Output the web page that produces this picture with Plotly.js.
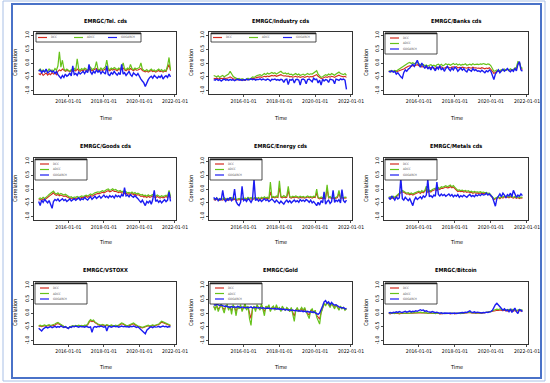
<!DOCTYPE html>
<html><head><meta charset="utf-8">
<script src="https://cdn.plot.ly/plotly-3.0.1.min.js"></script>
<style>html,body{margin:0;padding:0;background:#fff}#chart{width:550px;height:383px}</style>
</head><body><div id="chart"></div>
<script>
const dates = [
"2014-05","2014-06","2014-07","2014-08","2014-09","2014-10","2014-11","2014-12",
"2015-01","2015-02","2015-03","2015-04","2015-05","2015-06","2015-07","2015-08","2015-09","2015-10","2015-11","2015-12",
"2016-01","2016-02","2016-03","2016-04","2016-05","2016-06","2016-07","2016-08","2016-09","2016-10","2016-11","2016-12",
"2017-01","2017-02","2017-03","2017-04","2017-05","2017-06","2017-07","2017-08","2017-09","2017-10","2017-11","2017-12",
"2018-01","2018-02","2018-03","2018-04","2018-05","2018-06","2018-07","2018-08","2018-09","2018-10","2018-11","2018-12",
"2019-01","2019-02","2019-03","2019-04","2019-05","2019-06","2019-07","2019-08","2019-09","2019-10","2019-11","2019-12",
"2020-01","2020-02","2020-03","2020-04","2020-05","2020-06","2020-07","2020-08","2020-09","2020-10","2020-11","2020-12",
"2021-01","2021-02","2021-03","2021-04","2021-05","2021-06","2021-07","2021-08","2021-09","2021-10"];

const panelTitles = ["EMRGC/Tel. cds","EMRGC/Industry cds","EMRGC/Banks cds",
  "EMRGC/Goods cds","EMRGC/Energy cds","EMRGC/Metals cds",
  "EMRGC/VSTOXX","EMRGC/Gold","EMRGC/Bitcoin"];
const seriesNames = ["DCC","ADCC","GOGARCH"];
const xTickVals = ["2016-01-01","2018-01-01","2020-01-01","2022-01-01"];
const xTickText = ["2016-01-01","2018-01-01","2020-01-01","2022-01-01"];
const yTickVals = [-1,-0.5,0,0.5,1];
const yTickText = ["-1.0","-0.5","0.0","0.5","1.0"];

// ---- Tel. cds
const tel_red = [-0.38,-0.42,-0.35,-0.45,-0.40,-0.36,-0.44,-0.38,-0.42,-0.35,
-0.40,-0.36,-0.42,-0.30,-0.25,-0.28,-0.22,-0.26,-0.30,-0.27,
-0.28,-0.32,-0.27,-0.30,-0.25,-0.29,-0.22,-0.27,-0.30,-0.25,
-0.28,-0.24,-0.27,-0.30,-0.25,-0.22,-0.28,-0.25,-0.23,-0.20,
-0.26,-0.29,-0.24,-0.27,-0.25,-0.22,-0.18,-0.25,-0.28,-0.23,
-0.26,-0.22,-0.25,-0.28,-0.23,-0.26,-0.22,-0.18,-0.25,-0.28,
-0.23,-0.26,-0.20,-0.25,-0.28,-0.23,-0.26,-0.25,-0.22,-0.20,
-0.27,-0.30,-0.32,-0.29,-0.33,-0.30,-0.27,-0.31,-0.29,-0.33,
-0.30,-0.27,-0.31,-0.29,-0.33,-0.29,-0.31,-0.20,-0.05,-0.28];
const tel_green = [-0.28,-0.22,-0.30,-0.25,-0.32,-0.26,-0.30,-0.22,-0.28,-0.25,
-0.30,-0.20,-0.26,-0.10,0.40,-0.15,0.10,-0.20,-0.28,-0.22,
-0.26,-0.30,-0.24,-0.28,-0.20,-0.25,0.15,-0.22,-0.26,-0.20,
-0.24,-0.18,-0.22,-0.26,-0.20,-0.15,-0.24,-0.20,-0.18,0.05,
-0.22,-0.26,-0.18,-0.24,-0.20,-0.14,0.10,-0.20,-0.24,-0.18,
-0.22,-0.16,-0.20,-0.24,-0.18,-0.22,-0.15,0.00,-0.20,-0.24,
-0.18,-0.22,-0.05,-0.20,-0.24,-0.18,-0.22,-0.20,-0.16,0.00,
-0.22,-0.26,-0.28,-0.24,-0.30,-0.26,-0.22,-0.28,-0.25,-0.30,
-0.26,-0.22,-0.28,-0.24,-0.30,-0.25,-0.28,-0.10,0.20,-0.25];
const tel_blue = [-0.30,-0.25,-0.35,-0.28,-0.32,-0.22,-0.36,-0.30,-0.27,-0.33,
-0.29,-0.38,-0.31,-0.42,-0.50,-0.55,-0.45,-0.52,-0.40,-0.48,
-0.44,-0.36,-0.47,-0.10,-0.42,-0.38,-0.45,-0.33,-0.40,-0.35,
-0.30,-0.38,-0.28,-0.35,-0.05,-0.32,-0.40,-0.30,-0.36,-0.25,
-0.33,-0.28,-0.38,-0.30,-0.34,-0.40,-0.10,-0.42,-0.45,-0.35,
-0.40,-0.30,-0.38,-0.44,-0.36,-0.42,-0.05,-0.40,-0.35,-0.45,
-0.38,-0.30,-0.42,-0.48,-0.36,-0.40,-0.45,-0.38,-0.50,-0.58,
-0.65,-0.72,-0.85,-0.70,-0.60,-0.52,-0.48,-0.55,-0.45,-0.50,
-0.55,-0.48,-0.52,-0.45,-0.58,-0.50,-0.46,-0.52,-0.40,-0.50];

// ---- Industry cds
const ind_red = [-0.55,-0.57,-0.54,-0.58,-0.56,-0.55,-0.57,-0.54,-0.56,-0.55,
-0.53,-0.50,-0.55,-0.57,-0.58,-0.60,-0.61,-0.59,-0.62,-0.60,
-0.61,-0.63,-0.60,-0.58,-0.60,-0.57,-0.55,-0.56,-0.53,-0.52,
-0.51,-0.50,-0.52,-0.49,-0.48,-0.50,-0.47,-0.49,-0.47,-0.45,
-0.47,-0.45,-0.48,-0.46,-0.44,-0.42,-0.45,-0.47,-0.46,-0.48,
-0.47,-0.50,-0.49,-0.51,-0.50,-0.48,-0.51,-0.49,-0.52,-0.50,
-0.49,-0.52,-0.50,-0.48,-0.51,-0.49,-0.50,-0.47,-0.44,-0.42,
-0.48,-0.53,-0.56,-0.55,-0.52,-0.50,-0.52,-0.49,-0.51,-0.48,
-0.50,-0.52,-0.49,-0.46,-0.44,-0.47,-0.49,-0.50,-0.48,-0.52];
const ind_green = [-0.45,-0.48,-0.50,-0.46,-0.52,-0.48,-0.45,-0.50,-0.47,-0.44,
-0.40,-0.30,-0.42,-0.48,-0.52,-0.55,-0.58,-0.56,-0.60,-0.57,
-0.60,-0.62,-0.58,-0.55,-0.60,-0.56,-0.50,-0.52,-0.48,-0.45,
-0.44,-0.42,-0.46,-0.40,-0.38,-0.42,-0.36,-0.40,-0.37,-0.34,
-0.38,-0.35,-0.40,-0.37,-0.33,-0.30,-0.35,-0.38,-0.36,-0.40,
-0.37,-0.42,-0.40,-0.44,-0.41,-0.38,-0.43,-0.40,-0.45,-0.42,
-0.40,-0.44,-0.41,-0.38,-0.42,-0.39,-0.40,-0.36,-0.32,-0.28,
-0.40,-0.48,-0.52,-0.50,-0.46,-0.42,-0.45,-0.40,-0.43,-0.38,
-0.41,-0.44,-0.40,-0.36,-0.33,-0.38,-0.40,-0.42,-0.38,-0.45];
const ind_blue = [-0.60,-0.62,-0.58,-0.63,-0.60,-0.65,-0.61,-0.58,-0.62,-0.60,
-0.63,-0.59,-0.62,-0.60,-0.64,-0.61,-0.58,-0.62,-0.60,-0.63,
-0.60,-0.62,-0.58,-0.61,-0.60,-0.57,-0.60,-0.58,-0.62,-0.59,
-0.60,-0.57,-0.61,-0.58,-0.60,-0.62,-0.58,-0.60,-0.65,-0.59,
-0.60,-0.58,-0.62,-0.60,-0.63,-0.59,-0.61,-0.70,-0.60,-0.58,
-0.78,-0.60,-0.62,-0.58,-0.72,-0.60,-0.59,-0.62,-0.80,-0.60,
-0.58,-0.61,-0.75,-0.60,-0.58,-0.62,-0.68,-0.55,-0.60,-0.58,
-0.72,-0.62,-0.80,-0.58,-0.65,-0.60,-0.62,-0.70,-0.58,-0.60,
-0.62,-0.75,-0.58,-0.60,-0.63,-0.57,-0.60,-0.58,-0.62,-0.95];

// ---- Banks cds
const bank_red = [-0.30,-0.31,-0.29,-0.31,-0.29,-0.32,-0.30,-0.28,-0.27,-0.24,
-0.22,-0.18,-0.14,-0.12,-0.10,-0.12,-0.09,-0.11,-0.08,-0.06,
-0.10,-0.12,-0.14,-0.13,-0.16,-0.14,-0.18,-0.15,-0.17,-0.16,
-0.18,-0.20,-0.16,-0.15,-0.17,-0.14,-0.18,-0.19,-0.15,-0.14,
-0.16,-0.18,-0.15,-0.14,-0.16,-0.13,-0.18,-0.16,-0.17,-0.15,
-0.16,-0.18,-0.19,-0.16,-0.17,-0.19,-0.15,-0.18,-0.17,-0.19,
-0.18,-0.20,-0.17,-0.19,-0.21,-0.18,-0.20,-0.17,-0.22,-0.30,
-0.38,-0.34,-0.30,-0.30,-0.31,-0.27,-0.27,-0.26,-0.27,-0.22,
-0.26,-0.25,-0.26,-0.25,-0.21,-0.20,-0.05,0.02,-0.20,-0.24];
const bank_green = [-0.30,-0.28,-0.32,-0.30,-0.27,-0.29,-0.25,-0.22,-0.20,-0.15,
-0.12,-0.08,-0.02,0.00,0.02,-0.02,0.01,-0.03,0.00,0.02,
-0.03,-0.06,-0.08,-0.05,-0.10,-0.07,-0.12,-0.08,-0.06,-0.10,
-0.08,-0.12,-0.06,-0.04,-0.09,-0.05,-0.10,-0.07,-0.03,-0.06,
-0.04,-0.08,-0.05,-0.02,-0.06,-0.03,-0.07,-0.04,-0.08,-0.05,
-0.06,-0.03,-0.08,-0.05,-0.04,-0.07,-0.03,-0.06,-0.05,-0.04,
-0.06,-0.03,-0.05,-0.02,-0.04,-0.06,-0.03,-0.05,-0.10,-0.20,
-0.30,-0.28,-0.25,-0.30,-0.27,-0.24,-0.28,-0.22,-0.26,-0.23,
-0.25,-0.21,-0.26,-0.22,-0.20,-0.15,0.05,0.02,-0.15,-0.20];
const bank_blue = [-0.30,-0.32,-0.28,-0.33,-0.30,-0.40,-0.35,-0.45,-0.50,-0.55,
-0.35,-0.25,-0.30,-0.22,-0.18,-0.10,-0.05,-0.12,0.02,0.10,
-0.05,-0.15,0.00,-0.10,-0.20,-0.08,-0.22,-0.15,-0.25,-0.12,
-0.20,-0.28,-0.15,-0.22,-0.10,-0.25,-0.18,-0.30,-0.20,-0.12,
-0.22,-0.28,-0.18,-0.25,-0.15,-0.20,-0.30,-0.22,-0.18,-0.26,
-0.20,-0.28,-0.32,-0.22,-0.25,-0.30,-0.20,-0.27,-0.24,-0.30,
-0.28,-0.32,-0.26,-0.30,-0.35,-0.28,-0.32,-0.25,-0.30,-0.45,
-0.60,-0.40,-0.30,-0.25,-0.35,-0.28,-0.22,-0.30,-0.26,-0.20,
-0.28,-0.32,-0.25,-0.30,-0.20,-0.28,-0.05,0.05,-0.25,-0.30];

// ---- Goods cds
const goods_red = [-0.40,-0.38,-0.41,-0.36,-0.39,-0.34,-0.31,-0.27,-0.22,-0.18,
-0.14,-0.20,-0.23,-0.20,-0.25,-0.22,-0.24,-0.27,-0.25,-0.29,
-0.31,-0.34,-0.33,-0.36,-0.34,-0.35,-0.32,-0.35,-0.33,-0.30,
-0.32,-0.29,-0.27,-0.30,-0.26,-0.24,-0.26,-0.22,-0.20,-0.18,
-0.16,-0.17,-0.14,-0.12,-0.14,-0.10,-0.08,-0.06,-0.10,-0.08,
-0.05,-0.09,-0.08,-0.11,-0.13,-0.10,-0.15,-0.13,-0.17,-0.15,
-0.19,-0.17,-0.20,-0.16,-0.21,-0.18,-0.23,-0.20,-0.25,-0.27,
-0.25,-0.29,-0.27,-0.31,-0.26,-0.30,-0.28,-0.25,-0.29,-0.31,
-0.27,-0.30,-0.33,-0.29,-0.32,-0.30,-0.27,-0.31,-0.12,-0.33];
const goods_green = [-0.35,-0.32,-0.36,-0.30,-0.34,-0.28,-0.25,-0.20,-0.15,-0.12,
-0.08,-0.15,-0.18,-0.14,-0.20,-0.16,-0.18,-0.22,-0.19,-0.24,
-0.26,-0.30,-0.28,-0.32,-0.29,-0.30,-0.27,-0.31,-0.28,-0.25,
-0.27,-0.24,-0.22,-0.25,-0.20,-0.18,-0.21,-0.16,-0.14,-0.12,
-0.10,-0.12,-0.08,-0.06,-0.09,-0.04,-0.02,0.00,-0.05,-0.03,
0.01,-0.04,-0.02,-0.06,-0.08,-0.05,-0.10,-0.08,-0.12,-0.10,
-0.14,-0.12,-0.15,-0.11,-0.16,-0.13,-0.18,-0.15,-0.20,-0.22,
-0.20,-0.24,-0.22,-0.26,-0.21,-0.25,-0.23,-0.20,-0.24,-0.26,
-0.22,-0.25,-0.28,-0.24,-0.27,-0.25,-0.22,-0.26,-0.05,-0.28];
const goods_blue = [-0.45,-0.60,-0.40,-0.48,-0.38,-0.45,-0.50,-0.42,-0.55,-0.70,
-0.45,-0.38,-0.42,-0.36,-0.44,-0.40,-0.35,-0.42,-0.38,-0.45,
-0.40,-0.36,-0.43,-0.38,-0.35,-0.41,-0.37,-0.32,-0.40,-0.35,
-0.38,-0.30,-0.36,-0.40,-0.33,-0.28,-0.37,-0.32,-0.26,-0.34,
-0.30,-0.25,-0.33,-0.28,-0.22,-0.30,-0.26,-0.32,-0.24,-0.29,
-0.25,-0.32,-0.22,-0.28,-0.24,-0.30,-0.20,-0.26,0.05,-0.25,
-0.22,-0.28,-0.20,-0.26,-0.30,-0.24,-0.28,-0.35,-0.42,-0.48,
-0.40,-0.52,-0.60,-0.45,-0.50,-0.42,-0.55,-0.38,-0.05,-0.45,
-0.40,-0.48,-0.42,-0.50,-0.45,-0.38,-0.46,-0.40,-0.10,-0.45];

// ---- Energy cds
const en_red = [-0.38,-0.40,-0.37,-0.39,-0.41,-0.38,-0.40,-0.36,-0.39,-0.41,
-0.38,-0.40,-0.36,-0.39,-0.37,-0.41,-0.40,-0.38,-0.40,-0.37,
-0.38,-0.36,-0.39,-0.35,-0.37,-0.35,-0.38,-0.36,-0.34,-0.37,
-0.35,-0.38,-0.34,-0.36,-0.32,-0.35,-0.33,-0.36,-0.10,-0.32,
-0.30,-0.32,-0.29,-0.31,0.05,-0.30,-0.32,-0.29,-0.31,-0.30,
-0.05,-0.31,-0.33,-0.30,-0.32,-0.29,-0.31,-0.33,-0.30,-0.32,
-0.31,-0.33,-0.31,-0.29,-0.32,-0.30,-0.33,-0.30,-0.31,-0.15,
-0.33,-0.36,-0.33,-0.35,-0.32,-0.34,0.00,-0.33,-0.31,-0.35,
-0.32,-0.36,-0.33,-0.31,-0.15,-0.34,-0.31,-0.35,-0.32,-0.33];
const en_green = [-0.35,-0.38,-0.33,-0.36,-0.40,-0.34,-0.37,-0.32,-0.36,-0.38,
-0.34,-0.37,-0.31,-0.35,-0.33,-0.38,-0.36,-0.34,-0.37,-0.33,
-0.35,-0.32,-0.36,-0.30,-0.34,-0.31,-0.35,-0.33,-0.30,-0.34,
-0.31,-0.35,-0.30,-0.33,-0.28,-0.32,-0.30,-0.34,0.25,-0.30,
-0.27,-0.30,-0.25,-0.28,0.30,-0.26,-0.29,-0.24,-0.28,-0.25,
0.10,-0.27,-0.30,-0.26,-0.29,-0.25,-0.28,-0.30,-0.26,-0.29,
-0.27,-0.30,-0.28,-0.25,-0.29,-0.27,-0.30,-0.26,-0.28,0.00,
-0.30,-0.33,-0.29,-0.32,-0.28,-0.31,0.15,-0.30,-0.27,-0.32,
-0.29,-0.33,-0.30,-0.27,-0.05,-0.31,-0.28,-0.32,-0.29,-0.30];
const en_blue = [-0.30,-0.38,-0.32,-0.42,-0.35,-0.40,-0.05,-0.38,-0.45,-0.35,
-0.40,-0.30,-0.42,-0.36,0.00,-0.45,-0.55,-0.60,-0.48,0.10,
-0.42,-0.38,-0.45,-0.35,-0.40,-0.48,-0.38,0.35,-0.42,-0.36,
-0.44,-0.38,-0.45,-0.40,-0.35,-0.42,-0.38,-0.45,-0.40,-0.36,
-0.42,-0.48,-0.40,-0.45,-0.52,-0.44,-0.50,-0.55,-0.46,-0.40,
-0.48,-0.42,-0.50,-0.45,-0.40,-0.46,-0.42,-0.48,-0.38,-0.44,
-0.40,-0.45,-0.38,-0.42,-0.48,-0.40,-0.50,-0.45,-0.55,-0.60,
-0.48,-0.58,-0.42,-0.50,-0.10,-0.55,-0.45,-0.40,-0.52,-0.46,
-0.05,-0.48,-0.40,-0.45,-0.38,-0.50,-0.02,-0.42,-0.48,-0.40];

// ---- Metals cds
const met_red = [-0.34,-0.32,-0.35,-0.30,-0.33,-0.29,-0.25,-0.18,-0.13,-0.10,
-0.12,-0.16,-0.19,-0.17,-0.21,-0.18,-0.22,-0.19,-0.16,-0.14,
-0.12,-0.16,-0.10,-0.14,-0.09,0.02,-0.12,-0.08,-0.11,-0.06,
-0.04,-0.02,-0.06,0.01,-0.02,0.03,0.02,0.05,0.07,0.04,
0.05,0.09,0.04,0.07,0.02,-0.06,-0.09,-0.07,-0.10,-0.08,
-0.11,-0.09,-0.12,-0.10,-0.14,-0.12,-0.16,-0.13,-0.15,-0.14,
-0.16,-0.14,-0.17,-0.15,-0.18,-0.16,-0.20,-0.19,-0.24,-0.31,
-0.38,-0.36,-0.33,-0.31,-0.35,-0.30,-0.33,-0.28,-0.31,-0.29,
-0.32,-0.28,-0.31,-0.33,-0.30,-0.34,-0.31,-0.35,-0.32,-0.33];
const met_green = [-0.30,-0.28,-0.32,-0.26,-0.30,-0.25,-0.20,-0.12,-0.08,-0.05,
-0.08,-0.12,-0.15,-0.13,-0.17,-0.14,-0.18,-0.15,-0.12,-0.10,
-0.08,-0.12,-0.06,-0.10,-0.05,0.10,-0.08,-0.04,-0.07,-0.02,
0.00,0.03,-0.02,0.05,0.02,0.08,0.06,0.10,0.12,0.08,
0.10,0.14,0.08,0.12,0.06,-0.02,-0.05,-0.03,-0.06,-0.04,
-0.07,-0.05,-0.08,-0.06,-0.10,-0.08,-0.12,-0.09,-0.11,-0.10,
-0.12,-0.10,-0.13,-0.11,-0.14,-0.12,-0.16,-0.15,-0.20,-0.28,
-0.35,-0.33,-0.30,-0.28,-0.32,-0.27,-0.30,-0.25,-0.28,-0.26,
-0.29,-0.25,-0.28,-0.30,-0.27,-0.31,-0.28,-0.32,-0.29,-0.30];
const met_blue = [-0.30,-0.38,-0.25,-0.35,-0.40,-0.28,-0.36,-0.32,0.40,-0.35,
-0.40,-0.30,-0.38,-0.42,-0.35,-0.45,-0.60,-0.40,-0.30,-0.38,
-0.32,-0.28,-0.35,-0.25,-0.30,-0.22,0.35,-0.28,-0.24,-0.30,
-0.22,-0.26,0.25,-0.20,-0.25,-0.18,-0.24,-0.20,-0.26,-0.22,
-0.18,-0.25,-0.20,-0.28,-0.22,-0.26,-0.20,-0.30,-0.24,-0.28,
-0.22,-0.26,-0.30,-0.24,-0.20,-0.27,-0.23,-0.28,-0.21,-0.25,
-0.20,-0.24,-0.18,-0.22,-0.20,-0.15,-0.22,-0.18,-0.25,-0.30,
-0.45,-0.62,-0.35,-0.25,-0.18,-0.28,-0.15,-0.22,-0.30,-0.20,
-0.25,-0.15,-0.28,-0.05,-0.20,-0.30,-0.22,-0.26,-0.18,-0.24];

// ---- VSTOXX
const vs_red = [-0.48,-0.47,-0.49,-0.48,-0.46,-0.48,-0.47,-0.45,-0.47,-0.46,
-0.47,-0.44,-0.40,-0.38,-0.41,-0.45,-0.48,-0.50,-0.51,-0.53,
-0.55,-0.52,-0.50,-0.48,-0.49,-0.47,-0.48,-0.46,-0.48,-0.47,
-0.49,-0.46,-0.47,-0.43,-0.34,-0.28,-0.31,-0.29,-0.35,-0.40,
-0.42,-0.44,-0.46,-0.43,-0.45,-0.47,-0.44,-0.46,-0.48,-0.45,
-0.47,-0.49,-0.46,-0.48,-0.45,-0.42,-0.39,-0.41,-0.44,-0.47,
-0.48,-0.46,-0.44,-0.41,-0.39,-0.43,-0.46,-0.49,-0.50,-0.52,
-0.54,-0.52,-0.50,-0.48,-0.46,-0.49,-0.47,-0.45,-0.47,-0.46,
-0.44,-0.42,-0.38,-0.33,-0.35,-0.37,-0.40,-0.42,-0.44,-0.46];
const vs_green = [-0.46,-0.44,-0.47,-0.45,-0.43,-0.46,-0.44,-0.42,-0.45,-0.43,
-0.44,-0.40,-0.36,-0.34,-0.38,-0.42,-0.46,-0.48,-0.50,-0.52,
-0.54,-0.50,-0.48,-0.46,-0.47,-0.45,-0.46,-0.44,-0.46,-0.45,
-0.47,-0.44,-0.45,-0.40,-0.30,-0.24,-0.28,-0.25,-0.32,-0.38,
-0.40,-0.42,-0.44,-0.41,-0.43,-0.45,-0.42,-0.44,-0.46,-0.43,
-0.45,-0.47,-0.44,-0.46,-0.43,-0.40,-0.36,-0.38,-0.42,-0.45,
-0.46,-0.44,-0.42,-0.38,-0.36,-0.40,-0.44,-0.47,-0.48,-0.50,
-0.52,-0.50,-0.48,-0.46,-0.44,-0.47,-0.45,-0.43,-0.45,-0.44,
-0.42,-0.40,-0.35,-0.30,-0.32,-0.34,-0.38,-0.40,-0.42,-0.44];
const vs_blue = [-0.55,-0.62,-0.65,-0.58,-0.52,-0.50,-0.54,-0.51,-0.49,-0.53,
-0.50,-0.48,-0.52,-0.49,-0.51,-0.47,-0.50,-0.52,-0.49,-0.54,
-0.56,-0.50,-0.52,-0.48,-0.50,-0.47,-0.49,-0.51,-0.48,-0.50,
-0.49,-0.51,-0.48,-0.50,-0.52,-0.50,-0.70,-0.52,-0.49,-0.51,
-0.48,-0.50,-0.47,-0.49,-0.51,-0.48,-0.65,-0.50,-0.48,-0.51,
-0.49,-0.47,-0.50,-0.48,-0.51,-0.49,-0.47,-0.50,-0.48,-0.50,
-0.49,-0.51,-0.48,-0.50,-0.47,-0.49,-0.52,-0.50,-0.55,-0.60,
-0.65,-0.70,-0.75,-0.62,-0.55,-0.52,-0.50,-0.53,-0.49,-0.51,
-0.50,-0.48,-0.51,-0.49,-0.47,-0.50,-0.48,-0.51,-0.49,-0.50];

// ---- Gold
const gold_red = [0.22,0.18,0.25,0.15,0.20,0.27,0.20,0.12,0.22,0.25,
0.16,0.22,0.08,0.24,0.20,0.05,0.22,0.18,0.24,0.12,
0.20,0.26,0.15,0.22,0.00,-0.20,0.18,0.22,0.12,0.24,
0.20,0.15,0.26,0.17,0.05,0.22,0.19,0.24,0.10,0.18,
0.21,0.13,0.24,0.15,0.17,0.09,0.20,0.14,0.11,0.17,
0.13,0.07,0.16,0.02,-0.12,0.10,0.16,0.06,0.12,0.15,
0.08,0.15,0.05,-0.02,-0.08,0.08,0.10,0.02,0.07,-0.08,
-0.15,-0.22,0.02,0.20,0.32,0.30,0.36,0.32,0.24,0.33,
0.27,0.20,0.28,0.21,0.15,0.22,0.16,0.20,0.12,0.16];
const gold_green = [0.25,0.10,0.30,0.05,0.20,0.35,0.15,0.00,0.25,0.30,
0.10,0.25,-0.05,0.30,0.20,-0.10,0.25,0.15,0.30,0.05,
0.20,0.35,0.10,0.25,-0.20,-0.45,0.15,0.25,0.05,0.30,
0.20,0.10,0.35,0.15,-0.10,0.25,0.20,0.30,0.05,0.20,
0.25,0.10,0.30,0.15,0.20,0.05,0.25,0.15,0.10,0.20,
0.15,0.05,0.20,-0.05,-0.30,0.10,0.20,0.05,0.15,0.20,
0.10,0.20,0.05,-0.10,-0.20,0.10,0.15,0.00,0.10,-0.15,
-0.25,-0.40,0.00,0.20,0.35,0.25,0.40,0.30,0.20,0.35,
0.25,0.15,0.30,0.20,0.10,0.25,0.15,0.20,0.10,0.15];
const gold_blue = [0.30,0.28,0.32,0.30,0.27,0.29,0.26,0.24,0.25,0.23,
0.22,0.20,0.23,0.21,0.22,0.20,0.24,0.21,0.19,0.22,
0.20,0.18,0.21,0.19,0.20,0.22,0.18,0.20,0.21,0.19,
0.18,0.20,0.17,0.19,0.18,0.16,0.18,0.17,0.15,0.16,
0.15,0.17,0.14,0.16,0.13,0.15,0.12,0.14,0.11,0.13,
0.10,0.12,0.09,0.11,0.08,0.10,0.07,0.09,0.06,0.08,
0.05,0.07,0.04,0.06,0.03,0.05,0.02,0.04,0.00,-0.03,
-0.05,0.00,0.10,0.25,0.40,0.45,0.35,0.40,0.30,0.38,
0.32,0.28,0.30,0.25,0.22,0.20,0.18,0.20,0.15,0.17];

// ---- Bitcoin
const btc_red = [-0.02,-0.03,-0.01,-0.02,-0.03,-0.02,-0.01,-0.03,-0.02,-0.01,
-0.02,-0.01,-0.02,-0.01,-0.02,0.00,-0.01,0.00,-0.01,0.00,
0.01,0.00,0.00,0.01,-0.01,0.00,-0.02,-0.01,0.00,-0.02,
-0.01,-0.02,-0.02,-0.01,-0.03,-0.02,-0.01,-0.02,-0.02,-0.01,
-0.02,-0.03,-0.01,-0.02,-0.03,-0.01,-0.02,-0.01,-0.02,-0.02,
-0.01,0.00,-0.01,0.01,0.02,0.00,-0.01,0.00,-0.01,0.00,
-0.01,0.00,-0.01,0.00,0.01,0.00,0.01,0.02,0.03,0.05,
0.07,0.08,0.10,0.09,0.11,0.10,0.08,0.10,0.09,0.07,
0.09,0.08,0.10,0.07,0.09,0.06,0.08,0.10,0.07,0.08];
const btc_green = [0.00,-0.01,0.01,0.00,-0.02,0.00,0.01,-0.01,0.00,0.01,
-0.01,0.00,0.01,0.00,-0.01,0.01,0.00,0.02,0.00,0.01,
0.02,0.03,0.01,0.02,0.00,0.01,-0.01,0.00,0.01,-0.01,
0.00,-0.02,-0.01,0.00,-0.02,-0.01,0.00,-0.02,-0.01,0.00,
-0.01,-0.02,0.00,-0.01,-0.02,0.00,-0.01,0.00,-0.02,-0.01,
0.00,0.01,0.00,0.02,0.03,0.01,0.00,0.01,0.00,0.01,
0.00,0.01,0.00,0.01,0.02,0.01,0.02,0.03,0.05,0.08,
0.10,0.12,0.14,0.12,0.15,0.13,0.11,0.14,0.12,0.10,
0.13,0.11,0.14,0.10,0.12,0.09,0.11,0.13,0.10,0.12];
const btc_blue = [0.00,0.02,-0.01,0.03,0.01,0.04,0.02,0.05,0.03,0.02,
0.04,0.06,0.03,0.05,0.07,0.04,0.06,0.05,0.08,0.06,
0.10,0.12,0.09,0.11,0.06,0.08,0.05,0.04,0.03,0.05,
0.02,0.01,0.03,0.00,-0.01,0.01,-0.02,0.00,-0.01,-0.02,
-0.01,0.00,-0.02,-0.01,0.00,-0.02,-0.01,0.01,0.00,0.02,
0.01,0.03,0.02,0.04,0.08,0.03,0.02,0.04,0.01,0.03,
0.02,0.01,0.00,0.02,0.01,0.03,0.02,0.04,0.05,0.10,
0.20,0.30,0.35,0.28,0.22,0.18,0.10,0.15,0.08,0.12,
0.05,0.15,0.02,0.10,0.18,0.05,-0.02,0.12,0.10,0.05];

const panelSeries = [
  [tel_red, tel_green, tel_blue],
  [ind_red, ind_green, ind_blue],
  [bank_red, bank_green, bank_blue],
  [goods_red, goods_green, goods_blue],
  [en_red, en_green, en_blue],
  [met_red, met_green, met_blue],
  [vs_red, vs_green, vs_blue],
  [gold_red, gold_green, gold_blue],
  [btc_red, btc_green, btc_blue]
];

// ---------- layout (pixels) ----------
const W = 550, H = 383;
const colors = ['#d42a1e', '#66c21a', '#1c1cf2'];
const widths = [1.1, 1.2, 1.4];
const colBox = [[34,176],[209,352],[384,528]];
const rowBox = [[32,94],[158,220],[282,344]];
const titleY = [21,146,270];
const timeY = [118,242,367];
const corrX = [15,191,366];
const FONT = '"Liberation Sans Narrow", "Arial Narrow", "DejaVu Sans Condensed", "Liberation Sans", Arial, sans-serif';
const px = x => x / W;
const py = y => 1 - y / H;

const data = [];
const layout = {
  width: W, height: H,
  margin: {l:0, r:0, t:0, b:0},
  paper_bgcolor: '#ffffff', plot_bgcolor: '#ffffff',
  showlegend: false,
  font: {family: FONT, color: '#000', size: 5},
  annotations: [], shapes: []
};

panelTitles.forEach((title, i) => {
  const r = Math.floor(i / 3), c = i % 3;
  const sfx = i === 0 ? '' : String(i + 1);
  const [x0, x1] = colBox[c];
  const [y0, y1] = rowBox[r];
  panelSeries[i].forEach((ys, k) => {
    data.push({
      type: 'scatter', mode: 'lines', x: dates, y: ys, name: seriesNames[k],
      xaxis: 'x' + sfx, yaxis: 'y' + sfx,
      line: {color: colors[k], width: widths[k]}, hoverinfo: 'skip'
    });
  });
  layout['xaxis' + sfx] = {
    domain: [px(x0), px(x1)], anchor: 'y' + sfx, type: 'date',
    range: ['2014-01-25', '2022-01-22'],
    tickmode: 'array', tickvals: xTickVals, ticktext: xTickText,
    ticks: 'outside', ticklen: 2, tickwidth: 0.7, tickcolor: '#000',
    showline: true, mirror: true, linecolor: '#000', linewidth: 0.8,
    showgrid: false, zeroline: false, tickfont: {size: 5, family: FONT}
  };
  layout['yaxis' + sfx] = {
    domain: [py(y1), py(y0)], anchor: 'x' + sfx,
    range: [-1.12, 1.12],
    tickmode: 'array', tickvals: yTickVals, ticktext: yTickText, tickangle: -90,
    ticks: 'outside', ticklen: 2, tickwidth: 0.7, tickcolor: '#000',
    showline: true, mirror: true, linecolor: '#000', linewidth: 0.8,
    showgrid: false, zeroline: false, tickfont: {size: 5, family: FONT}
  };
  const cx = (x0 + x1) / 2;
  layout.annotations.push({text: '<b>' + title + '</b>', x: px(cx), y: py(titleY[r]),
    xref: 'paper', yref: 'paper', showarrow: false, xanchor: 'center', yanchor: 'middle',
    font: {size: 5.6, family: FONT, color: '#000'}});
  layout.annotations.push({text: 'Time', x: px(cx), y: py(timeY[r]),
    xref: 'paper', yref: 'paper', showarrow: false, xanchor: 'center', yanchor: 'middle',
    font: {size: 5.5, family: FONT, color: '#000'}});
  layout.annotations.push({text: 'Correlation', x: px(corrX[c]), y: py((y0 + y1) / 2),
    xref: 'paper', yref: 'paper', showarrow: false, xanchor: 'center', yanchor: 'middle',
    textangle: -90, font: {size: 5.5, family: FONT, color: '#000'}});

  // legend box
  let box, entries;
  if (i < 2) {
    const bx0 = x0 + 2, bx1 = x0 + 107, by0 = y0 + 1, by1 = y0 + 10;
    box = [bx0, by0, bx1, by1];
    const ey = (by0 + by1) / 2;
    entries = [[bx0 + 2, ey], [bx0 + 38, ey], [bx0 + 72, ey]];
  } else {
    const bx0 = x0 + 1, bx1 = x0 + 53, by0 = y0 + 1, by1 = y0 + 22;
    box = [bx0, by0, bx1, by1];
    entries = [[bx0 + 5, by0 + 5], [bx0 + 5, by0 + 10.5], [bx0 + 5, by0 + 16]];
  }
  layout.shapes.push({type: 'rect', xref: 'paper', yref: 'paper',
    x0: px(box[0]), x1: px(box[2]), y0: py(box[1]), y1: py(box[3]),
    line: {color: '#222', width: 0.8}, fillcolor: '#ffffff', layer: 'above'});
  layout.shapes.push({type: 'line', xref: 'paper', yref: 'paper',
    x0: px(box[0]), x1: px(box[2]), y0: py(box[1] + 0.5), y1: py(box[1] + 0.5),
    line: {color: '#222', width: 1.6}, layer: 'above'});
  entries.forEach((e, k) => {
    layout.shapes.push({type: 'line', xref: 'paper', yref: 'paper',
      x0: px(e[0]), x1: px(e[0] + 9), y0: py(e[1]), y1: py(e[1]),
      line: {color: colors[k], width: 1.2}, layer: 'above'});
    layout.annotations.push({text: seriesNames[k], x: px(e[0] + 11), y: py(e[1]),
      xref: 'paper', yref: 'paper', showarrow: false, xanchor: 'left', yanchor: 'middle',
      font: {size: 3, family: FONT, color: '#555'}});
  });
});

// outer frame
layout.shapes.push({type: 'rect', xref: 'paper', yref: 'paper',
  x0: px(3), x1: px(545), y0: py(381), y1: py(1),
  line: {color: '#a9c0e6', width: 1}, layer: 'above'});
layout.shapes.push({type: 'rect', xref: 'paper', yref: 'paper',
  x0: px(12), x1: px(541), y0: py(378), y1: py(4),
  line: {color: '#4a72c8', width: 2}, layer: 'above'});

Plotly.newPlot('chart', data, layout, {displayModeBar: false, staticPlot: true});
</script>
</body></html>
